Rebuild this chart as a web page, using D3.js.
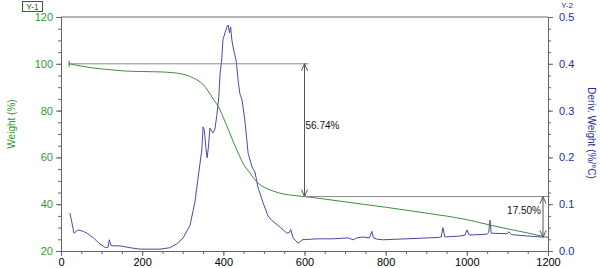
<!DOCTYPE html>
<html>
<head>
<meta charset="utf-8">
<script src="https://cdn.jsdelivr.net/npm/d3@7"></script>
<style>
  body { margin: 0; background: #fff; }
  svg { display: block; font-family: "Liberation Sans", Arial, sans-serif; }
</style>
</head>
<body>
<div id="chart"></div>
<script>
// weight curve (%)
var weightTemp = [20, 50, 80, 120, 160, 200, 250, 300, 325, 350, 375, 392, 400, 416, 425, 441, 450, 466, 475, 485, 500, 515, 530, 550, 575, 600, 700, 800, 900, 1000, 1057, 1100, 1150, 1200]
var weightVal  = [100, 99, 98.2, 97.5, 96.9, 96.7, 96.5, 95.6, 94, 91.2, 85, 80.3, 77, 70.4, 66.5, 60.2, 57, 53.3, 51, 49.1, 47.3, 46.1, 45.2, 44.3, 43.7, 43.26, 41, 38.7, 36.2, 33.4, 31.1, 29.5, 27.7, 25.76]

// derivative weight (%/°C)
var derivTemp = [22, 27, 32, 42, 55, 64, 80, 96, 110, 116, 119, 123, 130, 145, 170, 195, 244, 268, 285, 301, 318, 330, 338, 347, 350, 353, 357, 360, 363, 367, 374, 379, 384, 389, 392, 396, 399, 404, 409, 412, 415, 418, 421, 424, 428, 432, 437, 441, 446, 453, 458, 461, 471, 478, 485, 498, 510, 520, 540, 557, 563, 566, 572, 584, 590, 594, 631, 670, 707, 720, 729, 744, 760, 766, 770, 780, 794, 850, 930, 937, 941, 946, 983, 996, 1000, 1006, 1050, 1054, 1057, 1060, 1099, 1104, 1110, 1150, 1185]
var derivVal  = [0.081, 0.06, 0.038, 0.045, 0.042, 0.038, 0.028, 0.015, 0.007, 0.008, 0.024, 0.012, 0.011, 0.011, 0.007, 0.004, 0.004, 0.007, 0.015, 0.028, 0.055, 0.105, 0.158, 0.216, 0.265, 0.26, 0.22, 0.199, 0.22, 0.263, 0.252, 0.259, 0.29, 0.33, 0.38, 0.408, 0.451, 0.466, 0.479, 0.483, 0.466, 0.479, 0.451, 0.436, 0.42, 0.405, 0.36, 0.335, 0.323, 0.28, 0.237, 0.209, 0.179, 0.169, 0.137, 0.103, 0.075, 0.065, 0.051, 0.038, 0.04, 0.046, 0.028, 0.017, 0.02, 0.024, 0.026, 0.026, 0.028, 0.024, 0.028, 0.030, 0.028, 0.042, 0.028, 0.025, 0.024, 0.026, 0.029, 0.03, 0.05, 0.03, 0.032, 0.034, 0.045, 0.034, 0.036, 0.04, 0.066, 0.038, 0.037, 0.041, 0.035, 0.032, 0.030]

// step annotations: [from temp, to temp, level weight], labels
var stepFrom  = [20, 600]
var stepTo    = [600, 1200]
var stepTop   = [100, 43.26]
var stepLow   = [43.26, 25.76]
var stepLabel = ["56.74%", "17.50%"]

var xTicks = [0, 200, 400, 600, 800, 1000, 1200]
var y1Ticks = [20, 40, 60, 80, 100, 120]
var y2Ticks = [0.0, 0.1, 0.2, 0.3, 0.4, 0.5]

var width = 600, height = 268
var margin = {left: 61, top: 17, right: 52, bottom: 17}
var green = "#2f9a2f", blue = "#2b2ba3"

var svg = d3.select("#chart").append("svg")
    .attr("width", width).attr("height", height)

var x = d3.scaleLinear().domain([0, 1200]).range([margin.left, width - margin.right])
var y1 = d3.scaleLinear().domain([20, 120]).range([height - margin.bottom, margin.top])
var y2 = d3.scaleLinear().domain([0, 0.5]).range([height - margin.bottom, margin.top])

// top border
svg.append("line")
    .attr("x1", x(0)).attr("x2", x(1200))
    .attr("y1", y1(120)).attr("y2", y1(120))
    .attr("stroke", "#666").attr("stroke-width", 1)

// axes, minor ticks first then majors with labels
function styleAxis(g, col) {
  g.select(".domain").attr("stroke", "#666")
  g.selectAll(".tick line").attr("stroke", "#666")
  g.selectAll(".tick text").attr("fill", col).style("font-size", "11px")
}

svg.append("g").attr("transform", "translate(0," + y1(20) + ")")
   .call(d3.axisBottom(x).tickValues(d3.range(0, 1201, 50)).tickSize(3).tickFormat(""))
   .call(g => styleAxis(g, "#000"))
svg.append("g").attr("transform", "translate(0," + y1(20) + ")")
   .call(d3.axisBottom(x).tickValues(xTicks).tickSize(5).tickPadding(2).tickFormat(d3.format("d")))
   .call(g => styleAxis(g, "#000"))

svg.append("g").attr("transform", "translate(" + x(0) + ",0)")
   .call(d3.axisLeft(y1).tickValues(d3.range(20, 121, 5)).tickSize(3).tickFormat(""))
   .call(g => styleAxis(g, green))
svg.append("g").attr("transform", "translate(" + x(0) + ",0)")
   .call(d3.axisLeft(y1).tickValues(y1Ticks).tickSize(5).tickPadding(3))
   .call(g => styleAxis(g, green))

svg.append("g").attr("transform", "translate(" + x(1200) + ",0)")
   .call(d3.axisRight(y2).tickValues(d3.range(0, 21).map(d => d * 0.025)).tickSize(3).tickFormat(""))
   .call(g => styleAxis(g, blue))
svg.append("g").attr("transform", "translate(" + x(1200) + ",0)")
   .call(d3.axisRight(y2).tickValues(y2Ticks).tickSize(5).tickPadding(6).tickFormat(d3.format(".1f")))
   .call(g => styleAxis(g, blue))

// axis titles
svg.append("text")
   .attr("transform", "translate(15," + 124 + ") rotate(-90)")
   .attr("text-anchor", "middle").attr("fill", green)
   .style("font-size", "10px").text("Weight (%)")
svg.append("text")
   .attr("transform", "translate(588," + 133 + ") rotate(90)")
   .attr("text-anchor", "middle").attr("fill", blue)
   .style("font-size", "10px").text("Deriv. Weight (%/°C)")

// Y-1 box and Y-2 tag
svg.append("rect").attr("x", 22.5).attr("y", 1.5).attr("width", 20).attr("height", 10)
   .attr("fill", "none").attr("stroke", "#2a6a2a")
svg.append("text").attr("x", 32.5).attr("y", 9.5).attr("text-anchor", "middle")
   .attr("fill", "#2a6a2a").style("font-size", "8.5px").text("Y-1")
svg.append("text").attr("x", 567).attr("y", 8).attr("text-anchor", "middle")
   .attr("fill", blue).style("font-size", "8px").text("Y-2")

// curves
var weightLine = d3.line().x((d, i) => x(weightTemp[i])).y(d => y1(d)).curve(d3.curveMonotoneX)
var derivLine = d3.line().x((d, i) => x(derivTemp[i])).y(d => y2(d)).curve(d3.curveLinear)

svg.append("path").datum(derivVal).attr("d", derivLine)
   .attr("fill", "none").attr("stroke", "#4a4aa8").attr("stroke-width", 1)
svg.append("path").datum(weightVal).attr("d", weightLine)
   .attr("fill", "none").attr("stroke", "#3c8f3c").attr("stroke-width", 1)

// step annotations
var ann = svg.append("g").attr("stroke", "#555").attr("fill", "none").attr("stroke-width", 1)
stepFrom.forEach(function(t0, i) {
  var t1 = stepTo[i]
  var ax = x(t1) - (i == 1 ? 5 : 0)
  var yt = y1(stepTop[i]), yb = y1(stepLow[i])
  // level line
  ann.append("line").attr("x1", x(t0)).attr("x2", i == 0 ? ax + 4 : x(t1) + 2)
     .attr("y1", yt).attr("y2", yt).attr("stroke", "#888")
  if (i == 0) ann.append("line").attr("x1", x(t0)).attr("x2", x(t0)).attr("y1", yt - 3).attr("y2", yt + 3)
  // arrow
  ann.append("line").attr("x1", ax).attr("x2", ax).attr("y1", yt).attr("y2", yb)
  ann.append("path").attr("d", "M" + (ax - 3) + "," + (yt + 7) + "L" + ax + "," + yt + "L" + (ax + 3) + "," + (yt + 7))
  ann.append("path").attr("d", "M" + (ax - 3) + "," + (yb - 7) + "L" + ax + "," + yb + "L" + (ax + 3) + "," + (yb - 7))
  svg.append("text")
     .attr("x", i == 0 ? ax + 1 : ax - 2)
     .attr("y", i == 0 ? (yt + yb) / 2 - 1 : (yt + yb) / 2 - 3)
     .attr("text-anchor", i == 0 ? "start" : "end")
     .attr("fill", "#111").style("font-size", "10px").text(stepLabel[i])
})
</script>
</body>
</html>
